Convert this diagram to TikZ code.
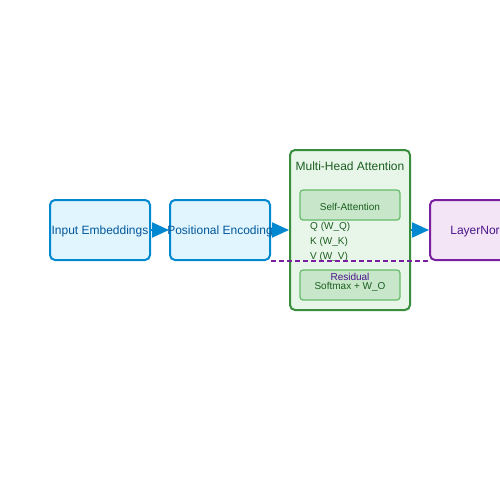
\documentclass[tikz,border=0pt]{standalone}
\usepackage{fontspec}
\setmainfont{Liberation Sans}
\usetikzlibrary{arrows.meta}
\definecolor{bluefill}{HTML}{E1F5FE}
\definecolor{bluedraw}{HTML}{0288D1}
\definecolor{bluetext}{HTML}{01579B}
\definecolor{greenfill}{HTML}{E8F5E9}
\definecolor{greendraw}{HTML}{388E3C}
\definecolor{greentext}{HTML}{1B5E20}
\definecolor{innerfill}{HTML}{C8E6C9}
\definecolor{innerdraw}{HTML}{66BB6A}
\definecolor{purpfill}{HTML}{F3E5F5}
\definecolor{purpdraw}{HTML}{7B1FA2}
\definecolor{purptext}{HTML}{4A148C}
\tikzset{
  x=1pt, y=-1pt,
  bluebox/.style={draw=bluedraw, fill=bluefill, line width=2pt, rounded corners=5pt, minimum width=100pt, minimum height=60pt, inner sep=0pt},
  bluelabel/.style={text=bluetext, font=\fontsize{12}{14}\selectfont, inner sep=0pt},
  outerbox/.style={draw=greendraw, fill=greenfill, line width=2pt, rounded corners=5pt, minimum width=120pt, minimum height=160pt, inner sep=0pt},
  innerbox/.style={draw=innerdraw, fill=innerfill, line width=1.2pt, rounded corners=3pt, minimum width=100pt, minimum height=30pt, inner sep=0pt},
  greenlabel/.style={text=greentext, font=\fontsize{10}{12}\selectfont, inner sep=0pt},
  purpbox/.style={draw=purpdraw, fill=purpfill, line width=2pt, rounded corners=5pt, minimum width=100pt, minimum height=60pt, inner sep=0pt},
  smalltext/.style={text=greentext, font=\fontsize{10}{12}\selectfont, inner sep=0pt, anchor=west},
  flow/.style={draw=bluedraw, line width=2pt, -{Triangle[length=17pt,width=15pt]}},
  resid/.style={draw=purpdraw, line width=1.6pt, dash pattern=on 5pt off 3pt},
}
\begin{document}
\begin{tikzpicture}
\useasboundingbox (0,0) rectangle (500,500);
\clip (0,0) rectangle (500,500);
\node[bluebox] (emb) at (100,230) {};
\node[bluebox] (pos) at (220,230) {};
\node[outerbox] (mha) at (350,230) {};
\node[innerbox] (sa) at (350,205) {};
\node[innerbox] (sm) at (350,285) {};
\node[purpbox] (ln) at (480,230) {};
\node[bluelabel] (embt) at (100,231.5) {Input Embeddings};
\node[bluelabel] (post) at (220,231.5) {Positional Encoding};
\node[text=greentext, font=\fontsize{12}{14}\selectfont, inner sep=0pt] (mhat) at (350,166.5) {Multi-Head Attention};
\node[greenlabel] (sat) at (350,207) {Self-Attention};
\node[smalltext] (q) at (310,227) {Q (W\_Q)};
\node[smalltext] (k) at (310,242) {K (W\_K)};
\node[smalltext] (v) at (310,257) {V (W\_V)};
\node[greenlabel] (smt) at (350,287) {Softmax + W\_O};
\node[text=purptext, font=\fontsize{12}{14}\selectfont, inner sep=0pt] (lnt) at (480,231.5) {LayerNorm};
\draw[resid] (pos.south east) -- (ln.south west);
\node[text=purptext, font=\fontsize{10}{12}\selectfont, inner sep=0pt] (res) at (350,277) {Residual};
\draw[flow] (emb.east) -- (pos.west);
\draw[flow] (pos.east) -- (mha.west);
\draw[flow] (mha.east) -- (ln.west);
\end{tikzpicture}
\end{document}
